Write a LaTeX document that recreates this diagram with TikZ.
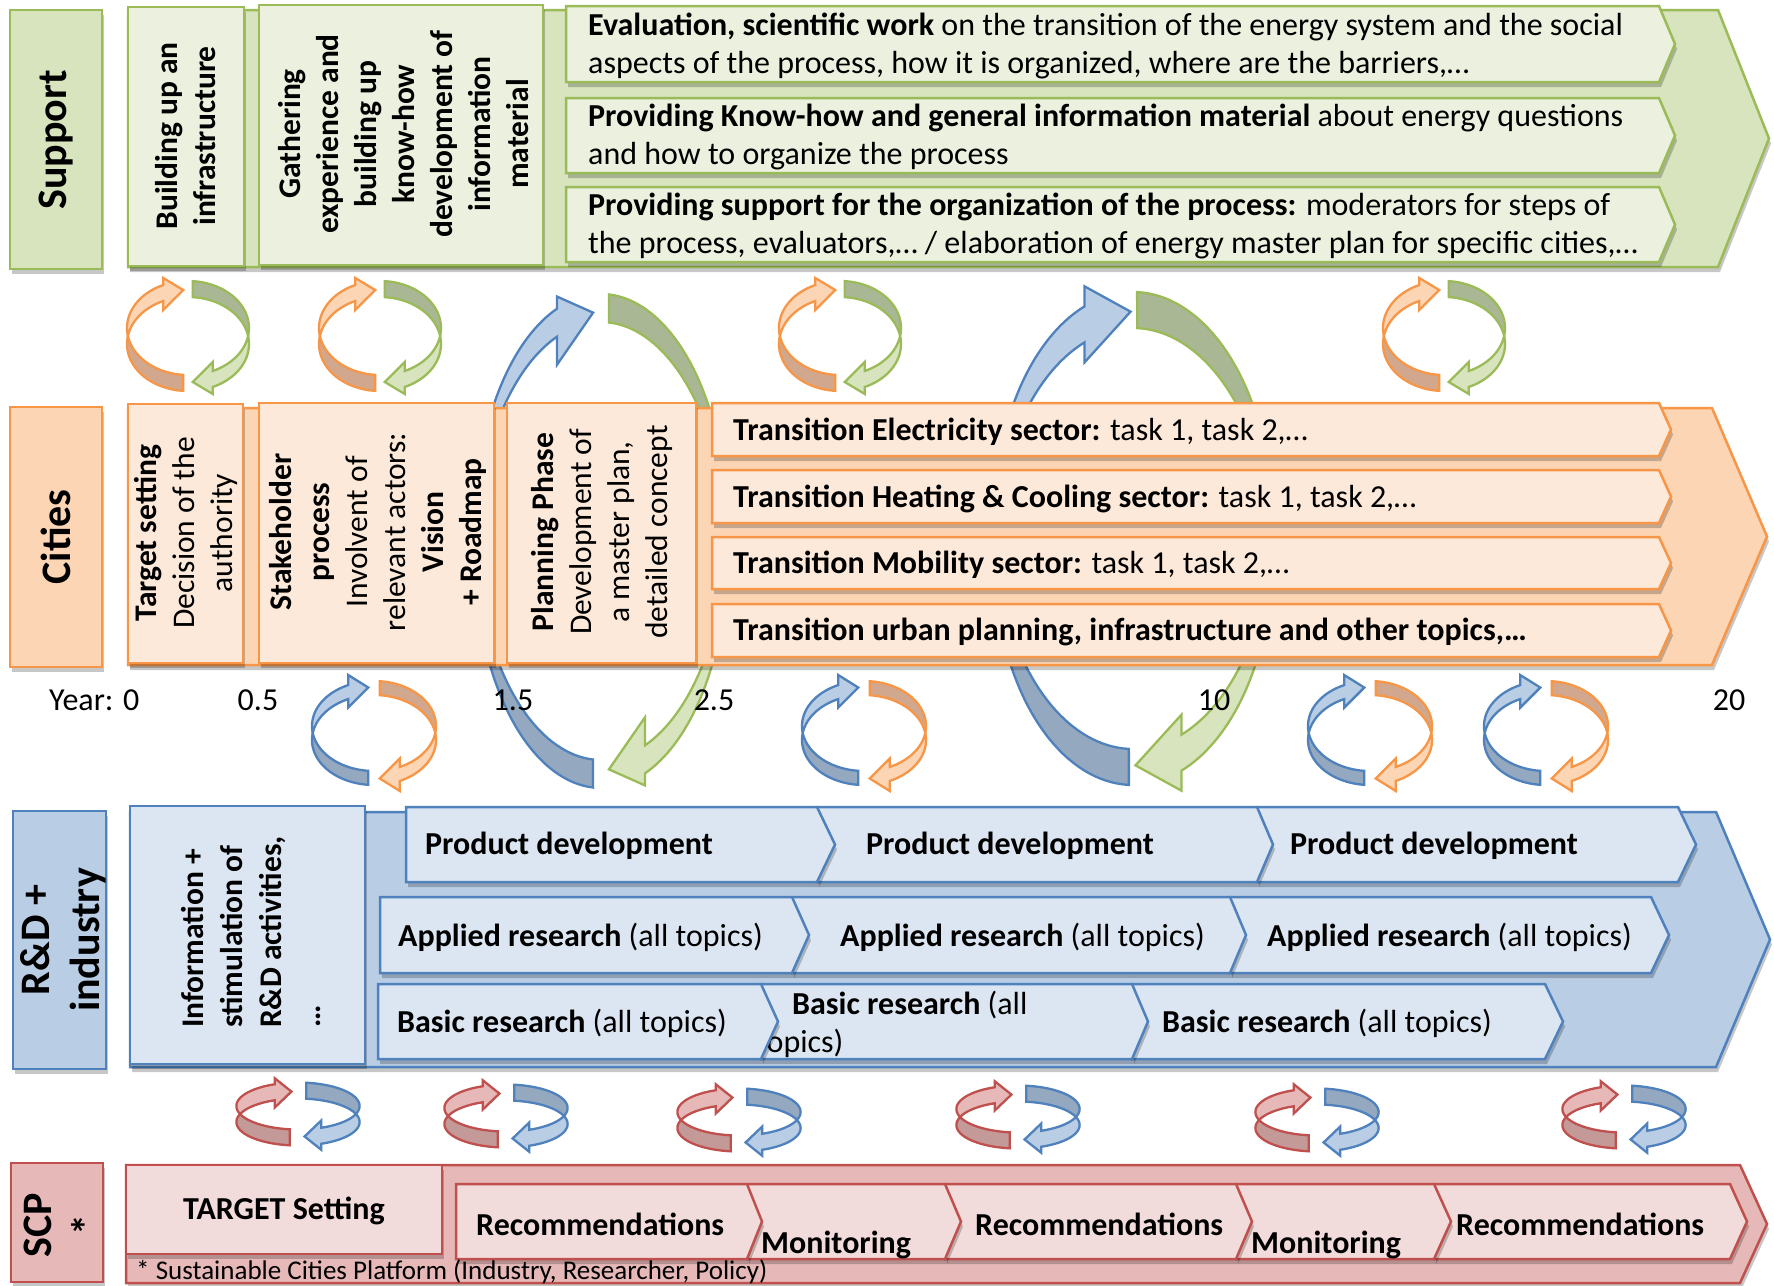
\documentclass[tikz,border=0pt]{standalone}
\usepackage{fontspec}
\setmainfont{Carlito}
\usetikzlibrary{shadows}

\definecolor{gB}{HTML}{9BBB59}
\definecolor{gL}{HTML}{D7E4BD}
\definecolor{gI}{HTML}{EBF1DE}
\definecolor{gD}{HTML}{A9B794}
\definecolor{oB}{HTML}{F79646}
\definecolor{oL}{HTML}{FCD5B5}
\definecolor{oI}{HTML}{FDE9D9}
\definecolor{oD}{HTML}{D1A88D}
\definecolor{bB}{HTML}{4F81BD}
\definecolor{bL}{HTML}{B9CDE5}
\definecolor{bI}{HTML}{DCE6F2}
\definecolor{bD}{HTML}{94A8BF}
\definecolor{rB}{HTML}{C0504D}
\definecolor{rL}{HTML}{E6B9B8}
\definecolor{rI}{HTML}{F2DCDB}
\definecolor{rD}{HTML}{C49A99}

\newcommand\fmain{\fontsize{32}{38}\selectfont}
\newcommand\fvert{\fontsize{31.5}{38}\selectfont}
\newcommand\finfo{\fontsize{31.5}{39}\selectfont}
\newcommand\flab{\fontsize{42}{50}\selectfont}
\newcommand\fnote{\fontsize{27}{30}\selectfont}

\tikzset{
  bx/.style={line width=2.5pt, line join=miter},
  shd/.style={drop shadow={shadow xshift=2pt, shadow yshift=-5pt, opacity=0.22, fill=black}},
  glab/.style={bx, draw=gB, fill=gL, shd},
  gbg/.style={bx, draw=gB, fill=gL, shd},
  gbox/.style={bx, draw=gB, fill=gI, shd},
  olab/.style={bx, draw=oB, fill=oL, shd},
  obg/.style={bx, draw=oB, fill=oL, shd},
  obox/.style={bx, draw=oB, fill=oI, shd},
  blab/.style={bx, draw=bB, fill=bL, shd},
  bbg/.style={bx, draw=bB, fill=bL, shd},
  bbox/.style={bx, draw=bB, fill=bI, shd},
  rlab/.style={bx, draw=rB, fill=rL, shd},
  rbg/.style={bx, draw=rB, fill=rL, shd},
  rbox/.style={bx, draw=rB, fill=rI, shd},
  ringline/.style={line width=2.3pt, line join=miter},
  lab/.style={inner sep=0pt, rotate=90, align=center, font=\flab\bfseries},
  vtxt/.style={inner sep=0pt, rotate=90, align=center, font=\fvert},
  ctxt/.style={inner sep=0pt, anchor=west, align=left, font=\fmain},
  ytxt/.style={inner sep=0pt, font=\fmain},
}

% chevron / pentagon arrow: x1, x2 (body end), x3 (tip), y1, y2, style
\newcommand\chev[6]{\filldraw[#6] (#1,#4) -- (#2,#4) -- (#3,{(#4+#5)/2}) -- (#2,#5) -- (#1,#5) -- cycle;}

% half of a 3D circular arrow (left half, head at top pointing right)
% #1 A, #2 B, #3 h, #4 head angle, #5 tail angle
\def\hwo{7}\def\hwi{9}\def\htx{20}\def\hty{-3}
\def\rlt{oL}\def\rdk{oD}\def\rbd{oB}
\newcommand\ringarrow[5]{%
  \pgfmathsetmacro\rc{asin(#3/#2)}%
  \pgfmathsetmacro\pa{180-\rc}%
  \pgfmathsetmacro\pb{180+\rc}%
  \pgfmathsetmacro\hx{#1*cos(#4)}%
  \pgfmathsetmacro\hyo{-#3+#2*sin(#4)-\hwo}%
  \pgfmathsetmacro\hyi{#3+#2*sin(#4)+\hwi}%
  \pgfmathsetmacro\tpx{#1*cos(#4)+\htx}%
  \pgfmathsetmacro\tpy{#2*sin(#4)+(\hty)}%
  \filldraw[fill=\rdk, draw=\rbd, ringline]
    plot[domain=0:1, samples=40] ({#1*cos(#5+(\pb-#5)*\x)},{#3+#2*sin(#5+(\pb-#5)*\x)})
    -- plot[domain=0:1, samples=40] ({#1*cos(\pa+(#5-\pa)*\x)},{-#3+#2*sin(\pa+(#5-\pa)*\x)})
    -- cycle;
  \filldraw[fill=\rlt, draw=\rbd, ringline]
    plot[domain=0:1, samples=40] ({#1*cos(\pa+(#4-\pa)*\x)},{-#3+#2*sin(\pa+(#4-\pa)*\x)})
    -- (\hx,\hyo) -- (\tpx,\tpy) -- (\hx,\hyi)
    -- plot[domain=0:1, samples=40] ({#1*cos(#4+(\pb-#4)*\x)},{#3+#2*sin(#4+(\pb-#4)*\x)})
    -- cycle;
}
\newcommand\pairA[1]{%
  \begin{scope}[shift={(#1)}]
    \def\hwo{7}\def\hwi{9}\def\htx{20}\def\hty{-3}
    \def\rlt{oL}\def\rdk{oD}\def\rbd{oB}\ringarrow{61}{47}{8}{246.1}{94.4}
    \begin{scope}[rotate=180]
      \def\rlt{gL}\def\rdk{gD}\def\rbd{gB}\ringarrow{61}{47}{8}{246.1}{94.4}
    \end{scope}
  \end{scope}}
\newcommand\pairB[1]{%
  \begin{scope}[shift={(#1)}]
    \def\hwo{10}\def\hwi{8.5}\def\htx{20}\def\hty{-4.5}
    \def\rlt{bL}\def\rdk{bD}\def\rbd{bB}\ringarrow{62}{45}{7}{245.5}{95.4}
    \begin{scope}[rotate=180]
      \def\rlt{oL}\def\rdk{oD}\def\rbd{oB}\ringarrow{62}{45}{7}{245.5}{95.4}
    \end{scope}
  \end{scope}}
\newcommand\pairC[1]{%
  \begin{scope}[shift={(#1)}]
    \def\hwo{6}\def\hwi{7.3}\def\htx{16.7}\def\hty{-0.7}
    \def\rlt{rL}\def\rdk{rD}\def\rbd{rB}\ringarrow{61.6}{23.5}{8}{247.8}{97.7}
    \begin{scope}[rotate=180]
      \def\rlt{bL}\def\rdk{bD}\def\rbd{bB}\ringarrow{61.6}{23.5}{8}{247.8}{97.7}
    \end{scope}
  \end{scope}}

\begin{document}
\begin{tikzpicture}[x=1pt,y=-1pt]
\useasboundingbox (0,0) rectangle (1774,1285);
\fill[white] (0,0) rectangle (1774,1285);

% ---------- big loops (behind the Cities row) ----------
\begin{scope}[shift={(601,541)}]
  \def\hwo{12}\def\hwi{28}\def\htx{36}\def\hty{-10}
  \def\rlt{bL}\def\rdk{bD}\def\rbd{bB}\ringarrow{126}{233}{14}{249.6}{93.6}
  \begin{scope}[rotate=180]
    \def\rlt{gL}\def\rdk{gD}\def\rbd{gB}\ringarrow{126}{233}{14}{249.6}{93.6}
  \end{scope}
\end{scope}
\begin{scope}[shift={(1133,538.5)}]
  \def\hwo{20}\def\hwi{20}\def\htx{46}\def\hty{-12.7}
  \def\rlt{bL}\def\rdk{bD}\def\rbd{bB}\ringarrow{139}{228.5}{18}{249.6}{91.7}
  \begin{scope}[rotate=180]
    \def\rlt{gL}\def\rdk{gD}\def\rbd{gB}\ringarrow{139}{228.5}{18}{249.6}{91.7}
  \end{scope}
\end{scope}

% ---------- SUPPORT ----------
\filldraw[glab] (10,10) rectangle (102,269);
\node[lab] (lsup) at (56,140) {Support};
\chev{128}{1718}{1769}{10}{267}{gbg}
\filldraw[gbox] (128,7) rectangle (244,266);
\filldraw[gbox] (259,5) rectangle (543,265);
\node[vtxt, font=\fvert\bfseries] (sup1) at (186,136) {Building up an\\infrastructure};
\node[vtxt, font=\fvert\bfseries] (sup2) at (404,134) {Gathering\\experience and\\building up\\know-how\\development of\\information\\material};
\chev{566}{1659}{1675}{6}{82}{gbox}
\chev{566}{1659}{1675}{98}{173}{gbox}
\chev{566}{1659}{1675}{187}{262}{gbox}
\node[ctxt] (sup3) at (588,46) {\textbf{Evaluation, scientific work} on the transition of the energy system and the social\\aspects of the process, how it is organized, where are the barriers,…};
\node[ctxt] (sup4) at (588,137) {\textbf{Providing Know-how and general information material} about energy questions\\and how to organize the process};
\node[ctxt] (sup5) at (588,226) {\textbf{Providing support for the organization of the process:} moderators for steps of\\the process, evaluators,… / elaboration of energy master plan for specific cities,…};

% ---------- CITIES ----------
\filldraw[olab] (10,407) rectangle (102,667);
\node[lab] (lcit) at (56,537) {Cities};
\chev{128}{1712}{1767}{408}{665}{obg}
\filldraw[obox] (128,404) rectangle (243,663);
\filldraw[obox] (259,403) rectangle (494,663);
\filldraw[obox] (507,403) rectangle (696,663);
\node[vtxt] (cit1) at (186,533) {\textbf{Target setting}\\Decision of the\\authority};
\node[vtxt] (cit2) at (378,532) {\textbf{Stakeholder}\\\textbf{process}\\Involvent of\\relevant actors:\\\textbf{Vision}\\\textbf{+ Roadmap}};
\node[vtxt] (cit3) at (602,532) {\textbf{Planning Phase}\\Development of\\a master plan,\\detailed concept};
\chev{712}{1659}{1671}{403}{456}{obox}
\chev{712}{1659}{1671}{470}{523}{obox}
\chev{712}{1659}{1671}{537}{589}{obox}
\chev{712}{1659}{1671}{604}{657}{obox}
\node[ctxt] (cit4) at (733,432) {\textbf{Transition Electricity sector:} task 1, task 2,…};
\node[ctxt] (cit5) at (733,499) {\textbf{Transition Heating \& Cooling sector:} task 1, task 2,…};
\node[ctxt] (cit6) at (733,565) {\textbf{Transition Mobility sector:} task 1, task 2,…};
\node[ctxt] (cit7) at (733,632) {\textbf{Transition urban planning, infrastructure and other topics,…}};

% ---------- R&D + industry ----------
\filldraw[blab] (13,811) rectangle (106,1069);
\node[lab] (lrd) at (63,940) {R\&D +\\industry};
\chev{130}{1716}{1770}{812}{1067}{bbg}
\filldraw[bbox] (130,806) rectangle (365,1064);
\node[rotate=90, anchor=west, align=left, inner sep=0pt, font=\finfo\bfseries] (info) at (251,1028) {Information +\\stimulation of\\R\&D activities,\\…};
% product development
\chev{1257}{1678}{1696}{807}{882}{bbox}
\node[ctxt, font=\fmain\bfseries] (pd3) at (1290,846) {Product development};
\chev{817}{1257}{1273}{807}{882}{bbox}
\node[ctxt, font=\fmain\bfseries] (pd2) at (866,846) {Product development};
\chev{406}{817}{835}{807}{882}{bbox}
\node[ctxt, font=\fmain\bfseries] (pd1) at (425,846) {Product development};
% applied research
\chev{1230}{1651}{1669}{897}{973}{bbox}
\node[ctxt] (ar3) at (1267,937) {\textbf{Applied research} (all topics)};
\chev{792}{1230}{1246}{897}{973}{bbox}
\node[ctxt] (ar2) at (840,937) {\textbf{Applied research} (all topics)};
\chev{380}{792}{809}{897}{973}{bbox}
\node[ctxt] (ar1) at (398,937) {\textbf{Applied research} (all topics)};
% basic research
\chev{1132}{1545}{1563}{984}{1059}{bbox}
\node[ctxt] (br3) at (1162,1023) {\textbf{Basic research} (all topics)};
\chev{761}{1132}{1148}{984}{1059}{bbox}
\node[ctxt] (br2) at (756,1024) {\hspace*{36pt}\textbf{Basic research} (all\\topics)};
\chev{378}{761}{778}{984}{1059}{bbox}
\node[ctxt] (br1) at (397,1023) {\textbf{Basic research} (all topics)};

% ---------- SCP ----------
\filldraw[rlab] (11,1163) rectangle (103,1282);
\node[lab] (lscp) at (63,1225) {SCP\\*};
\chev{126}{1740}{1767}{1165}{1283}{rbg}
\filldraw[rbox] (126,1165) rectangle (442,1254);
\node[ytxt, font=\fmain\bfseries] (tgt) at (284,1211) {TARGET Setting};
\chev{1434}{1730}{1747}{1184}{1259}{rbox}
\chev{1236}{1434}{1451}{1184}{1259}{rbox}
\chev{945}{1236}{1252}{1184}{1259}{rbox}
\chev{747}{945}{961}{1184}{1259}{rbox}
\chev{456}{747}{762}{1184}{1259}{rbox}
\node[ctxt, font=\fmain\bfseries] (rc1) at (476,1224) {Recommendations};
\node[ctxt, font=\fmain\bfseries] (mo1) at (761,1245) {Monitoring};
\node[ctxt, font=\fmain\bfseries] (rc2) at (975,1224) {Recommendations};
\node[ctxt, font=\fmain\bfseries] (mo2) at (1251,1245) {Monitoring};
\node[ctxt, font=\fmain\bfseries] (rc3) at (1456,1224) {Recommendations};
\node[anchor=west, inner sep=0pt, font=\fnote] (fn) at (136,1272) {* Sustainable Cities Platform (Industry, Researcher, Policy)};

% ---------- small circular arrow pairs ----------
\pairA{188,336}
\pairA{380,336}
\pairA{840,336}
\pairA{1444,336}
\pairB{374,733}
\pairB{864,733}
\pairB{1370,733}
\pairB{1546,733}
\pairC{298,1114}
\pairC{506,1116}
\pairC{739,1120}
\pairC{1018,1117}
\pairC{1317,1120}
\pairC{1624,1117}

% ---------- time axis ----------
\node[ytxt, anchor=west] (y0) at (49,700) {Year: 0};
\node[ytxt] (y1) at (258,700) {0.5};
\node[ytxt] (y2) at (513,700) {1.5};
\node[ytxt] (y3) at (714,700) {2.5};
\node[ytxt] (y4) at (1214,700) {10};
\node[ytxt] (y5) at (1729,700) {20};
\end{tikzpicture}
\end{document}
